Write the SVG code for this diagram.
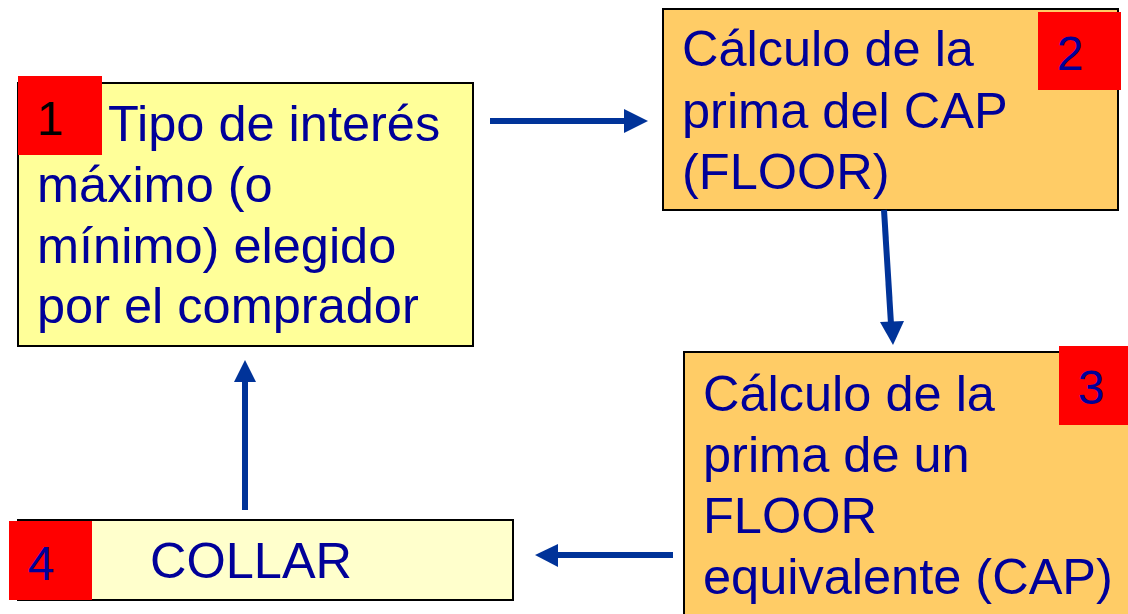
<svg xmlns="http://www.w3.org/2000/svg" width="1128" height="614" viewBox="0 0 1128 614">
<style>
.box{stroke:#000;stroke-width:2}
.t{font-family:"Liberation Sans",Arial,sans-serif;font-size:50.5px;fill:#000099}
.n{font-family:"Liberation Sans",Arial,sans-serif;font-size:48px;text-anchor:middle}
.red{fill:#FF0000}
.c{stroke:#003399;stroke-width:6;fill:none}
.h{fill:#003399}
</style>
<rect width="1128" height="614" fill="#fff"/>
<g id="node1">
<rect class="box" x="18" y="83" width="455" height="263" fill="#FFFF99"/>
<rect class="red" x="18" y="76" width="84" height="79"/>
<text class="n" x="50" y="135" fill="#000">1</text>
<text class="t" x="108" y="141">Tipo de interés</text>
<text class="t" x="37" y="202">máximo (o</text>
<text class="t" x="37" y="263">mínimo) elegido</text>
<text class="t" x="37" y="323">por el comprador</text>
</g>
<g id="node2">
<rect class="box" x="663" y="9" width="455" height="201" fill="#FFCC66"/>
<rect class="red" x="1038" y="12" width="83" height="78"/>
<text class="n" x="1070" y="70" fill="#000099">2</text>
<text class="t" x="682" y="66">Cálculo de la</text>
<text class="t" x="682" y="128">prima del CAP</text>
<text class="t" x="682" y="189">(FLOOR)</text>
</g>
<g id="node3">
<rect class="box" x="684" y="352" width="450" height="270" fill="#FFCC66"/>
<rect class="red" x="1059" y="346" width="69" height="79"/>
<text class="n" x="1091" y="404" fill="#000099">3</text>
<text class="t" x="703" y="411">Cálculo de la</text>
<text class="t" x="703" y="472">prima de un</text>
<text class="t" x="703" y="533">FLOOR</text>
<text class="t" x="703" y="594">equivalente (CAP)</text>
</g>
<g id="node4">
<rect class="box" x="18" y="520" width="495" height="80" fill="#FFFFCC"/>
<rect class="red" x="9" y="521" width="83" height="79"/>
<text class="n" x="41" y="580" fill="#000099">4</text>
<text class="t" x="150" y="578">COLLAR</text>
</g>
<g id="connectors">
<line class="c" x1="490" y1="121" x2="626" y2="121"/>
<polygon class="h" points="624,109 648,121 624,133"/>
<line class="c" x1="673" y1="555" x2="556" y2="555"/>
<polygon class="h" points="558,544 535,555 558,567"/>
<line class="c" x1="884" y1="210" x2="891" y2="324"/>
<polygon class="h" points="880,322 904,321 893,345"/>
<line class="c" x1="245" y1="510" x2="245" y2="380"/>
<polygon class="h" points="234,382 245,360 256,382"/>
</g>
</svg>
